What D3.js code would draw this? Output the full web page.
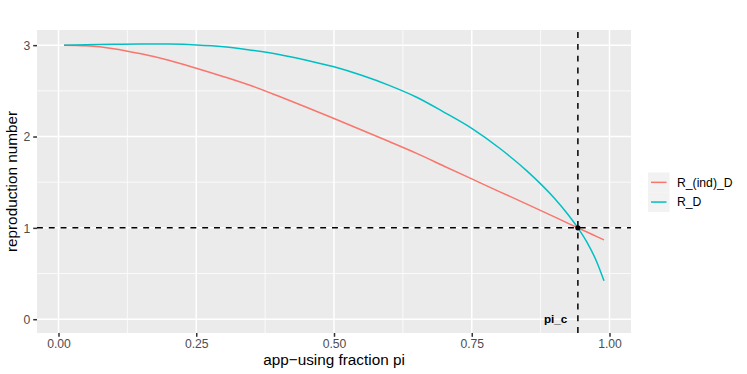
<!DOCTYPE html>
<html>
<head>
<meta charset="utf-8">
<script src="https://cdn.jsdelivr.net/npm/d3@7"></script>
<style>
  html, body { margin: 0; padding: 0; background: #ffffff; }
  svg { display: block; font-family: "Liberation Sans", Arial, Helvetica, sans-serif; }
</style>
</head>
<body>
<svg id="chart" width="747" height="374"></svg>
<script>
// ---------- data ----------
const piValues = [0.01, 0.05, 0.1, 0.15, 0.2, 0.25, 0.3, 0.35, 0.4, 0.45, 0.5, 0.55, 0.6, 0.65, 0.7, 0.75, 0.8, 0.85, 0.9, 0.925, 0.9426, 0.96, 0.975, 0.99];
const rIndD   = [3.0, 2.993, 2.962, 2.905, 2.835, 2.748, 2.655, 2.555, 2.44, 2.32, 2.197, 2.072, 1.945, 1.815, 1.675, 1.536, 1.397, 1.26, 1.12, 1.049, 1.0, 0.952, 0.91, 0.868];
const rD      = [3.0, 3.005, 3.011, 3.014, 3.012, 3.003, 2.983, 2.945, 2.898, 2.836, 2.763, 2.67, 2.56, 2.43, 2.265, 2.089, 1.874, 1.624, 1.324, 1.144, 1.0, 0.833, 0.653, 0.42];
const seriesNames = ["R_(ind)_D", "R_D"];
const seriesColors = ["#F8766D", "#00BFC4"];
const piC = 0.9426;
const rThreshold = 1;
const piCLabel = "pi_c";
const xTicks = [0, 0.25, 0.5, 0.75, 1.0];
const xTickLabels = ["0.00", "0.25", "0.50", "0.75", "1.00"];
const xMinor = [0.125, 0.375, 0.625, 0.875];
const yTicks = [0, 1, 2, 3];
const yMinor = [0.5, 1.5, 2.5];
const xTitle = "app\u2212using fraction pi";
const yTitle = "reproduction number";

// ---------- layout ----------
const panel = { left: 37, right: 631, top: 30, bottom: 333 };
const svg = d3.select("#chart");
svg.append("rect").attr("width", 747).attr("height", 374).attr("fill", "#ffffff");

const x = d3.scaleLinear().domain([-0.039, 1.039]).range([panel.left, panel.right]);
const y = d3.scaleLinear().domain([-0.151, 3.166]).range([panel.bottom, panel.top]);

// panel background
svg.append("rect")
  .attr("x", panel.left).attr("y", panel.top)
  .attr("width", panel.right - panel.left).attr("height", panel.bottom - panel.top)
  .attr("fill", "#EBEBEB");

const grid = svg.append("g");
grid.selectAll("line.xminor").data(xMinor).join("line")
  .attr("class", "xminor")
  .attr("x1", d => x(d)).attr("x2", d => x(d))
  .attr("y1", panel.top).attr("y2", panel.bottom)
  .attr("stroke", "#fff").attr("stroke-width", 0.75);
grid.selectAll("line.yminor").data(yMinor).join("line")
  .attr("class", "yminor")
  .attr("y1", d => y(d)).attr("y2", d => y(d))
  .attr("x1", panel.left).attr("x2", panel.right)
  .attr("stroke", "#fff").attr("stroke-width", 0.75);
grid.selectAll("line.xmajor").data(xTicks).join("line")
  .attr("class", "xmajor")
  .attr("x1", d => x(d)).attr("x2", d => x(d))
  .attr("y1", panel.top).attr("y2", panel.bottom)
  .attr("stroke", "#fff").attr("stroke-width", 1.5);
grid.selectAll("line.ymajor").data(yTicks).join("line")
  .attr("class", "ymajor")
  .attr("y1", d => y(d)).attr("y2", d => y(d))
  .attr("x1", panel.left).attr("x2", panel.right)
  .attr("stroke", "#fff").attr("stroke-width", 1.5);

// ---------- axes ----------
const xAxis = d3.axisBottom(x).tickValues(xTicks)
  .tickFormat((d, i) => xTickLabels[i]).tickSizeInner(3.8).tickSizeOuter(0).tickPadding(3);
const gx = svg.append("g").attr("transform", `translate(0,${panel.bottom})`).call(xAxis);
gx.select(".domain").remove();
gx.selectAll(".tick line").attr("stroke", "#333333").attr("stroke-width", 1.5);
gx.selectAll(".tick text").attr("fill", "#4D4D4D").attr("font-size", "12.2px")
  .attr("font-family", "Liberation Sans, Arial, sans-serif")
  .attr("dy", null).attr("y", 14.8);

const yAxis = d3.axisLeft(y).tickValues(yTicks).tickFormat(d3.format("d"))
  .tickSizeInner(3.8).tickSizeOuter(0).tickPadding(3);
const gy = svg.append("g").attr("transform", `translate(${panel.left},0)`).call(yAxis);
gy.select(".domain").remove();
gy.selectAll(".tick line").attr("stroke", "#333333").attr("stroke-width", 1.5);
gy.selectAll(".tick text").attr("fill", "#4D4D4D").attr("font-size", "12.2px")
  .attr("font-family", "Liberation Sans, Arial, sans-serif")
  .attr("dy", "0.36em");

// ---------- reference lines ----------
svg.append("line")
  .attr("x1", panel.left).attr("x2", panel.right)
  .attr("y1", y(rThreshold)).attr("y2", y(rThreshold))
  .attr("stroke", "#000").attr("stroke-width", 1.5).attr("stroke-dasharray", "5.9,5.9");
svg.append("line")
  .attr("x1", x(piC)).attr("x2", x(piC))
  .attr("y1", panel.bottom).attr("y2", panel.top)
  .attr("stroke", "#000").attr("stroke-width", 1.5).attr("stroke-dasharray", "5.9,5.9");

// ---------- series ----------
const series = [rIndD, rD];
const line = d3.line()
  .x((d, i) => x(piValues[i]))
  .y(d => y(d))
  .curve(d3.curveMonotoneX);
series.forEach((vals, k) => {
  svg.append("path")
    .datum(vals)
    .attr("d", line)
    .attr("fill", "none")
    .attr("stroke", seriesColors[k])
    .attr("stroke-width", 1.5)
    .attr("stroke-linejoin", "round");
});

// intersection point
svg.append("circle")
  .attr("cx", x(piC)).attr("cy", y(rThreshold)).attr("r", 2.6).attr("fill", "#000");

// pi_c label
svg.append("text")
  .attr("x", x(piC) - 10.5).attr("y", y(0))
  .attr("dy", "0.36em")
  .attr("text-anchor", "end")
  .attr("font-weight", "bold")
  .attr("font-size", "11.7px")
  .attr("fill", "#000")
  .text(piCLabel);

// ---------- titles ----------
svg.append("text")
  .attr("x", (panel.left + panel.right) / 2).attr("y", 364.5)
  .attr("text-anchor", "middle").attr("font-size", "15.3px").attr("fill", "#000")
  .text(xTitle);
svg.append("text")
  .attr("transform", `translate(16.5,${(panel.top + panel.bottom) / 2}) rotate(-90)`)
  .attr("text-anchor", "middle").attr("font-size", "15.3px").attr("fill", "#000")
  .text(yTitle);

// ---------- legend ----------
const legend = svg.append("g").attr("transform", "translate(648,172.5)");
const keyW = 21.5, keyH = 19.7;
seriesNames.forEach((name, i) => {
  const g = legend.append("g").attr("transform", `translate(0,${i * keyH})`);
  g.append("rect").attr("width", keyW).attr("height", keyH).attr("fill", "#F2F2F2");
  g.append("line").attr("x1", 3).attr("x2", keyW - 3)
    .attr("y1", keyH / 2).attr("y2", keyH / 2)
    .attr("stroke", seriesColors[i]).attr("stroke-width", 1.5);
  g.append("text").attr("x", keyW + 7.5).attr("y", keyH / 2).attr("dy", "0.36em")
    .attr("font-size", "12.2px").attr("fill", "#000").text(name);
});
</script>
</body>
</html>
